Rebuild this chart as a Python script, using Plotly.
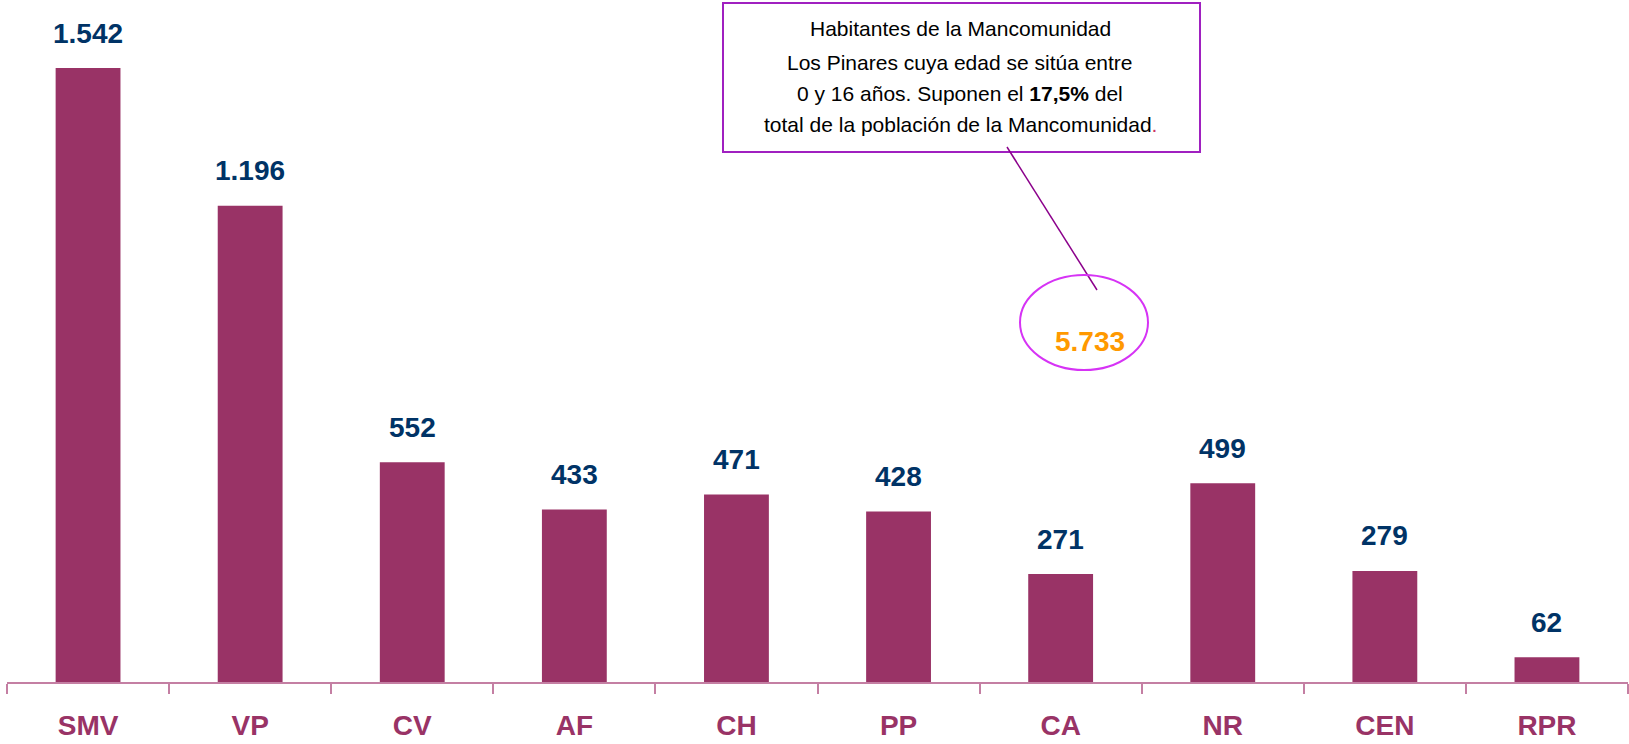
import plotly.graph_objects as go

categories = ["SMV", "VP", "CV", "AF", "CH", "PP", "CA", "NR", "CEN", "RPR"]
values = [1542, 1196, 552, 433, 471, 428, 271, 499, 279, 62]
value_labels = ["1.542", "1.196", "552", "433", "471", "428", "271", "499", "279", "62"]
total_label = "5.733"
callout_lines = [
    "Habitantes de la Mancomunidad",
    "Los Pinares cuya edad se sitúa entre",
    "0 y 16 años. Suponen el <b>17,5%</b> del",
    "total de la población de la Mancomunidad<span style='color:#CC3366'>.</span>",
]

BAR = "#993366"
AXIS = "#C47FA3"
LABEL = "#003366"

W, H = 1629, 744
L, R, T, B = 7, 1, 0, 62
PW, PH = W - L - R, H - T - B


def px(x):
    return (x - L) / PW


def py(y):
    return (H - B - y) / PH


fig = go.Figure()
fig.add_trace(go.Bar(x=categories, y=values, marker=dict(color=BAR, line=dict(width=0)),
                     hoverinfo="x+y"))

for c, v, t in zip(categories, values, value_labels):
    fig.add_annotation(x=c, y=v, text=f"<b>{t}</b>", showarrow=False, yanchor="middle",
                       xanchor="center", yshift=35,
                       font=dict(family="Liberation Sans, Arial", size=28, color=LABEL))

# callout box
fig.add_shape(type="rect", xref="paper", yref="paper", x0=px(723), x1=px(1200), y0=py(152), y1=py(3),
              line=dict(color="#A020C0", width=2), fillcolor="white", layer="above")
for line, yc in zip(callout_lines, [29, 62, 93, 125]):
    fig.add_annotation(xref="paper", yref="paper", x=px(960), y=py(yc), showarrow=False,
                       xanchor="center", yanchor="middle", text=line,
                       font=dict(family="Liberation Sans, Arial", size=21, color="black"))
fig.add_shape(type="line", xref="paper", yref="paper", x0=px(1007), y0=py(147), x1=px(1097), y1=py(290),
              line=dict(color="#8B008B", width=1.5))
fig.add_shape(type="circle", xref="paper", yref="paper", x0=px(1020), x1=px(1148), y0=py(370), y1=py(275),
              line=dict(color="#D633F5", width=2))
fig.add_annotation(xref="paper", yref="paper", x=px(1090), y=py(341), showarrow=False,
                   xanchor="center", yanchor="middle",
                   text=f"<b>{total_label}</b>",
                   font=dict(family="Liberation Sans, Arial", size=28, color="#FF9900"))

fig.update_layout(
    width=W, height=H,
    margin=dict(l=L, r=R, t=T, b=B),
    paper_bgcolor="white", plot_bgcolor="white",
    bargap=0.6, showlegend=False,
    xaxis=dict(showline=True, linecolor=AXIS, linewidth=1.5, ticks="outside", ticklen=10,
               tickcolor=AXIS, tickwidth=1.5, tickson="boundaries", showgrid=False,
               ticklabelstandoff=18, automargin=False, fixedrange=True,
               tickfont=dict(family="Liberation Sans, Arial", size=28, color=BAR, weight="bold")),
    yaxis=dict(range=[0, 1713], visible=False, showgrid=False, zeroline=False, automargin=False,
               fixedrange=True),
)

fig.write_html("out.html", config={"displayModeBar": False},
               post_script="document.body.style.margin='0px';document.body.style.overflow='hidden';")
